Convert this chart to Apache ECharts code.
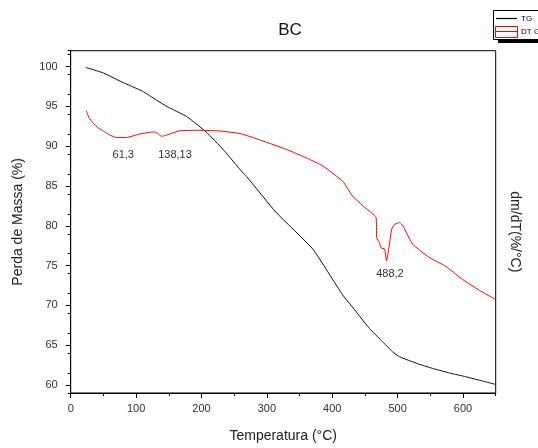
<!DOCTYPE html>
<html><head><meta charset="utf-8">
<script src="https://cdn.jsdelivr.net/npm/echarts@6/dist/echarts.min.js"></script>
<style>html,body{margin:0;padding:0;background:#fff}#c{width:538px;height:448px}</style>
</head><body><div id="c"></div>
<script>
// ---- data ----
const tgTemp = [23, 50, 80, 110, 131, 147, 177, 192, 207, 233, 263, 269, 314, 370, 416, 427, 457, 475, 492, 503, 530, 553, 580, 604, 630, 649];
const tgMass = [99.9, 99.2, 98.0, 96.9, 95.8, 95.0, 93.75, 92.8, 91.8, 89.6, 86.7, 86.2, 81.7, 77.1, 71.3, 70.2, 67.1, 65.6, 64.2, 63.55, 62.7, 62.1, 61.5, 61.05, 60.5, 60.1];
const dtgTemp = [23.5, 28, 34.5, 42, 50, 60, 70, 85, 106, 128, 133, 139, 145, 152, 167, 197, 230, 261, 289, 330, 360, 386, 416, 431, 450, 467, 468, 472, 475, 480, 483, 487, 491, 496, 503, 508, 523, 548, 574, 597, 625, 649];
const dtgVal = [94.5, 93.6, 92.9, 92.3, 91.9, 91.4, 91.1, 91.1, 91.55, 91.8, 91.6, 91.25, 91.35, 91.55, 91.95, 92.0, 91.9, 91.55, 90.8, 89.6, 88.55, 87.5, 85.6, 83.75, 82.3, 81.05, 78.5, 77.9, 77.2, 77.1, 75.6, 77.4, 79.6, 80.2, 80.4, 80.0, 77.7, 76.05, 74.9, 73.4, 71.9, 70.8];
const peakLabels = ["61,3", "138,13", "488,2"];
const peakPos = [[80.4, 88.9], [159.5, 88.9], [488.2, 74.0]];
const yMajor = [60, 65, 70, 75, 80, 85, 90, 95, 100];
const xMajor = [0, 100, 200, 300, 400, 500, 600];
const yMinorStep = 2.5;
const xMinorStep = 50;

const chart = echarts.init(document.getElementById('c'), null, {renderer: 'canvas'});
const FONT = 'Liberation Sans';
const YMIN = 59, YMAX = 102, XMIN = 0, XMAX = 650;
const grid = {left: 70.7, right: 42.3, top: 50.7, bottom: 53.3, show: true, borderColor: '#000', borderWidth: 1, containLabel: false};

function zip(a, b) { return a.map((v, i) => [v, b[i]]); }

const option = {
  animation: false,
  backgroundColor: '#fff',
  title: {text: 'BC', left: 285, top: 17, textAlign: 'center',
    textStyle: {fontFamily: FONT, fontSize: 17, fontWeight: 'normal', color: '#111'}},
  grid: grid,
  xAxis: [
    {type: 'value', min: XMIN, max: XMAX, position: 'bottom',
      name: 'Temperatura (°C)', nameLocation: 'middle', nameGap: 36,
      nameTextStyle: {fontFamily: FONT, fontSize: 14, color: '#222'},
      axisLine: {show: true, lineStyle: {color: '#000', width: 1}},
      axisTick: {show: true, inside: false, length: 5, customValues: xMajor, lineStyle: {color: '#000'}},
      axisLabel: {customValues: xMajor, margin: 10, fontFamily: FONT, fontSize: 11, color: '#333'},
      splitLine: {show: false}, z: 5},
    {type: 'value', min: XMIN, max: XMAX, interval: xMinorStep, position: 'bottom', offset: 0,
      axisLine: {show: true, onZero: false, lineStyle: {color: '#000', width: 1}},
      axisTick: {show: true, inside: false, length: 3, lineStyle: {color: '#000'}},
      axisLabel: {show: false}, splitLine: {show: false}}
  ],
  yAxis: [
    {type: 'value', min: YMIN, max: YMAX, position: 'left',
      name: 'Perda de Massa (%)', nameLocation: 'middle', nameGap: 46, nameRotate: 90,
      nameTextStyle: {fontFamily: FONT, fontSize: 14, color: '#222'},
      axisLine: {show: true, lineStyle: {color: '#000', width: 1}},
      axisTick: {show: true, inside: false, length: 5, customValues: yMajor, lineStyle: {color: '#000'}},
      axisLabel: {customValues: yMajor, margin: 13, fontFamily: FONT, fontSize: 11, color: '#333'},
      splitLine: {show: false}, z: 5},
    {type: 'value', min: YMIN, max: YMAX, interval: yMinorStep, position: 'left', offset: 0,
      axisLine: {show: true, onZero: false, lineStyle: {color: '#000', width: 1}},
      axisTick: {show: true, inside: false, length: 3, lineStyle: {color: '#000'}},
      axisLabel: {show: false}, splitLine: {show: false}},
    {type: 'value', min: YMIN, max: YMAX, position: 'right',
      name: 'dm/dT(%/°C)', nameLocation: 'middle', nameGap: 12, nameRotate: -90,
      nameTextStyle: {fontFamily: FONT, fontSize: 14, color: '#222', padding: [0, 0, 0, 20]},
      axisLine: {show: true, lineStyle: {color: '#000', width: 1}},
      axisTick: {show: false}, axisLabel: {show: false}, splitLine: {show: false}}
  ],
  series: [
    {name: 'TG', type: 'line', xAxisIndex: 0, yAxisIndex: 0, data: zip(tgTemp, tgMass),
      showSymbol: false, smooth: 0.15, lineStyle: {color: '#111', width: 1}},
    {name: 'DTG', type: 'line', xAxisIndex: 0, yAxisIndex: 2, data: zip(dtgTemp, dtgVal),
      showSymbol: false, smooth: 0.15, lineStyle: {color: '#ff0000', width: 1},
      markPoint: {symbol: 'circle', symbolSize: 0, silent: true,
        data: peakLabels.map((t, i) => ({coord: peakPos[i], value: t,
          label: {show: true, position: 'inside', formatter: t, fontFamily: FONT, fontSize: 11, color: '#333'}}))}},
    {name: 'minor', type: 'line', xAxisIndex: 1, yAxisIndex: 1, data: [], silent: true, showSymbol: false}
  ],
  graphic: [
    {type: 'rect', shape: {x: 498, y: 38.5, width: 60, height: 4.5}, style: {fill: '#000'}, z: 10},
    {type: 'rect', shape: {x: 493.5, y: 10.5, width: 60, height: 29}, style: {fill: '#fff', stroke: '#000', lineWidth: 1}, z: 11},
    {type: 'line', shape: {x1: 496, y1: 18.5, x2: 517, y2: 18.5}, style: {stroke: '#000', lineWidth: 1.2}, z: 12},
    {type: 'text', x: 521, y: 18.5, style: {text: 'TG', font: '8px "Liberation Sans"', fill: '#000', verticalAlign: 'middle'}, z: 12},
    {type: 'rect', shape: {x: 495.5, y: 26.5, width: 22, height: 11}, style: {fill: 'none', stroke: '#ff0000', lineWidth: 1}, z: 12},
    {type: 'line', shape: {x1: 495.5, y1: 31.5, x2: 517.5, y2: 31.5}, style: {stroke: '#ff0000', lineWidth: 1}, z: 12},
    {type: 'text', x: 521, y: 31.5, style: {text: 'DT G', font: '8px "Liberation Sans"', fill: '#000', verticalAlign: 'middle'}, z: 12}
  ]
};
chart.setOption(option);
</script></body></html>
